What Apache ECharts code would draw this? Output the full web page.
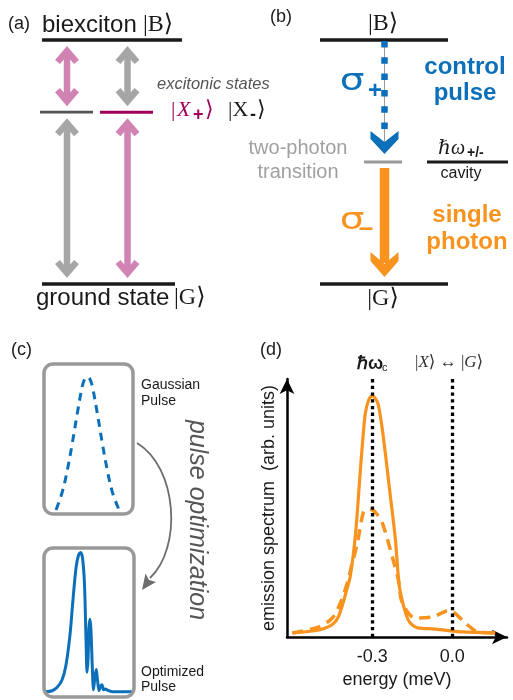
<!DOCTYPE html>
<html>
<head>
<meta charset="utf-8">
<script src="https://cdn.jsdelivr.net/npm/echarts@6/dist/echarts.min.js"></script>
<style>
html, body { margin: 0; padding: 0; background: #fff; }
#main { width: 513px; height: 700px; }
</style>
</head>
<body>
<div id="main"></div>
<script>
// level energies (arb. units, ground state = 0)
const stateNames = ['G', 'X', 'B'];
const stateEnergies = [0, 1.0, 1.42];
const twoPhotonEnergy = 0.71;   // virtual level / cavity, half of B

// (c) pulses, time in % of the box, amplitude normalised
const gaussT = [13.5, 20.6, 26.2, 31.8, 37.4, 43.0, 45.8, 48.7, 51.5, 54.3, 59.9, 65.5, 71.1, 76.7, 84.3];
const gaussAmp = [0.015, 0.15, 0.31, 0.51, 0.73, 0.93, 0.985, 1.0, 0.985, 0.93, 0.73, 0.51, 0.31, 0.15, 0.015];
const optT = [2.2, 8.9, 14.4, 20, 24.4, 28.9, 32.2, 35.6, 38.3, 40.6, 42.8, 45, 46.7, 47.8, 48.9, 50, 51.1, 52.2,
  53.7, 55, 56.7, 58.1, 59.4, 61.1, 62.8, 64.4, 66.1, 68.3, 70.6, 75.6, 97.8];
const optAmp = [0, 0.007, 0.03, 0.084, 0.19, 0.41, 0.66, 0.89, 0.98, 1.0, 0.96, 0.77, 0.37, 0.14, 0.23, 0.46, 0.52, 0.44,
  0.17, 0.014, 0.115, 0.16, 0.086, 0.007, 0.04, 0.05, 0.014, 0.02, 0.01, 0, 0];

// (d) emission spectrum, energy in meV
const solidE = [-0.6, -0.5, -0.46, -0.44, -0.425, -0.41, -0.395, -0.383, -0.364, -0.345, -0.335, -0.326, -0.313, -0.3,
  -0.289, -0.278, -0.265, -0.251, -0.232, -0.214, -0.2, -0.19, -0.178, -0.165, -0.15, -0.13, -0.064, 0.037, 0.161];
const solidS = [0.017, 0.029, 0.045, 0.062, 0.09, 0.14, 0.2, 0.25, 0.415, 0.69, 0.83, 0.93, 0.985, 1.0,
  0.99, 0.965, 0.88, 0.76, 0.58, 0.41, 0.22, 0.16, 0.11, 0.07, 0.05, 0.038, 0.033, 0.021, 0.017];
const dashedE = [-0.6, -0.502, -0.45, -0.42, -0.394, -0.375, -0.356, -0.334, -0.318, -0.3, -0.283, -0.2625, -0.225,
  -0.2025, -0.1875, -0.139, -0.075, -0.015, 0.004, 0.049, 0.097, 0.161];
const dashedS = [0.017, 0.041, 0.079, 0.141, 0.224, 0.307, 0.39, 0.515, 0.53, 0.527, 0.51, 0.473, 0.332,
  0.237, 0.141, 0.079, 0.083, 0.108, 0.104, 0.058, 0.021, 0.017];
const markerE = [-0.3, 0.0];
const xTickValues = [-0.3, 0.0];
const xTickLabels = ['-0.3', '0.0'];

const SANS = "'Liberation Sans', Arial, Helvetica, sans-serif";
const SERIF = "'Liberation Serif', 'DejaVu Serif', 'Times New Roman', serif";
const BLUE = '#0b6fba', ORANGE = '#f7931e', PINK = '#d183b3', GREY = '#a6a6a6', MAGENTA = '#a1005a';

const E = n => stateEnergies[stateNames.indexOf(n)];

// drawing layout of the level schemes (horizontal extent in px columns)
const levels = [
  { e: E('B'), x0: 42, x1: 182, color: '#1a1a1a', w: 3.3 },
  { e: E('X'), x0: 40, x1: 93, color: '#555', w: 2.7 },
  { e: E('X'), x0: 100, x1: 153, color: MAGENTA, w: 3 },
  { e: E('G'), x0: 42, x1: 175, color: '#1a1a1a', w: 3.3 },
  { e: E('B'), x0: 320, x1: 448, color: '#1a1a1a', w: 3.3 },
  { e: twoPhotonEnergy, x0: 364, x1: 402, color: '#999', w: 3 },
  { e: twoPhotonEnergy, x0: 427, x1: 508, color: '#1a1a1a', w: 3 },
  { e: E('G'), x0: 320, x1: 448, color: '#1a1a1a', w: 3.3 }
];
const transitions = [
  { x: 67, hi: E('B'), lo: E('X'), kind: 'double', color: PINK },
  { x: 127.5, hi: E('B'), lo: E('X'), kind: 'double', color: GREY },
  { x: 67, hi: E('X'), lo: E('G'), kind: 'double', color: GREY },
  { x: 127.5, hi: E('X'), lo: E('G'), kind: 'double', color: PINK },
  { x: 384.5, hi: E('B'), lo: twoPhotonEnergy, kind: 'pulse', color: BLUE },
  { x: 384.5, hi: twoPhotonEnergy, lo: E('G'), kind: 'photon', color: ORANGE }
];

function renderLevel(params, api) {
  const L = levels[params.dataIndex];
  const p0 = api.coord([L.x0, L.e]);
  const p1 = api.coord([L.x1, L.e]);
  return { type: 'line', shape: { x1: p0[0], y1: p0[1], x2: p1[0], y2: p1[1] }, style: { stroke: L.color, lineWidth: L.w } };
}

function chevron(x, tip, c) {
  return { type: 'polygon', shape: { points: [[x - 14, tip - 23], [x, tip - 12], [x + 14, tip - 23], [x + 14, tip - 15], [x, tip], [x - 14, tip - 15]] }, style: { fill: c } };
}

function renderTransition(params, api) {
  const A = transitions[params.dataIndex];
  const top = api.coord([A.x, A.hi]);
  const bot = api.coord([A.x, A.lo]);
  const x = top[0], c = A.color;
  const kids = [];
  if (A.kind === 'double') {
    const y1 = top[1] + 6, y2 = bot[1] - 6;
    kids.push({ type: 'line', shape: { x1: x, y1: y1 + 5, x2: x, y2: y2 - 5 }, style: { stroke: c, lineWidth: 6.5 } });
    kids.push({ type: 'polyline', shape: { points: [[x - 9.5, y1 + 16], [x, y1 + 5], [x + 9.5, y1 + 16]] }, style: { stroke: c, lineWidth: 6.5, fill: null, lineJoin: 'miter' } });
    kids.push({ type: 'polyline', shape: { points: [[x - 9.5, y2 - 16], [x, y2 - 5], [x + 9.5, y2 - 16]] }, style: { stroke: c, lineWidth: 6.5, fill: null, lineJoin: 'miter' } });
  } else if (A.kind === 'pulse') {
    const tip = bot[1] - 8;
    kids.push({ type: 'line', shape: { x1: x, y1: top[1] + 2, x2: x, y2: tip - 12 }, style: { stroke: '#9a9a9a', lineWidth: 1 } });
    kids.push({ type: 'line', shape: { x1: x, y1: top[1] + 1, x2: x, y2: tip - 24 }, style: { stroke: c, lineWidth: 6.5, lineDash: [6.5, 9.8] } });
    kids.push(chevron(x, tip, c));
  } else {
    const tip = bot[1] - 7;
    kids.push({ type: 'line', shape: { x1: x, y1: top[1] + 6, x2: x, y2: tip - 14 }, style: { stroke: c, lineWidth: 9.5 } });
    kids.push({ type: 'polygon', shape: { points: [[x - 14, tip - 25], [x, tip - 13], [x + 14, tip - 25], [x + 14, tip - 16], [x, tip], [x - 14, tip - 16]] }, style: { fill: c } });
  }
  return { type: 'group', children: kids };
}

function txt(x, y, s, size, o) {
  o = o || {};
  const st = {
    text: s, fill: o.color || '#1a1a1a',
    font: (o.italic ? 'italic ' : '') + (o.bold ? 'bold ' : '') + size + 'px ' + (o.family || SANS),
    align: o.align || 'left', textAlign: o.align || 'left', verticalAlign: 'middle', textVerticalAlign: 'middle'
  };
  if (o.rich) st.rich = o.rich;
  return { type: 'text', x: x, y: y, z: 100, rotation: o.rot || 0, scaleX: o.sx || 1, style: st };
}

const SIGMA = "'DejaVu Sans', 'Liberation Sans', sans-serif";
const texts = [
  // (a)
  txt(8, 24, '(a)', 18),
  txt(42, 25, 'biexciton', 24),
  txt(143, 25, '|B⟩', 24, { family: SERIF }),
  txt(36, 298, 'ground state', 24),
  txt(174, 298, '|G⟩', 24, { family: SERIF }),
  txt(157, 84, 'excitonic states', 16.5, { italic: true, color: '#555' }),
  txt(171, 110, '|', 22, { family: SERIF, color: MAGENTA }),
  txt(177, 110, 'X', 22, { family: SERIF, italic: true, color: MAGENTA }),
  txt(193, 115, '+', 18, { bold: true, color: MAGENTA }),
  txt(205, 110, '⟩', 22, { family: SERIF, color: MAGENTA }),
  txt(228, 110, '|X', 22, { family: SERIF }),
  txt(250, 115, '-', 18, { bold: true }),
  txt(257, 110, '⟩', 22, { family: SERIF }),
  // (b)
  txt(270, 17, '(b)', 18),
  txt(383, 24, '|B⟩', 24, { family: SERIF, align: 'center' }),
  txt(352, 82, 'σ', 30, { color: BLUE, align: 'center', sx: 1.3, family: SIGMA }),
  txt(375, 91, '+', 24, { bold: true, color: BLUE, align: 'center' }),
  txt(465, 67, 'control', 24, { bold: true, color: BLUE, align: 'center' }),
  txt(465, 93, 'pulse', 24, { bold: true, color: BLUE, align: 'center' }),
  txt(298, 148, 'two-photon', 20, { color: '#a0a0a0', align: 'center' }),
  txt(298, 172, 'transition', 20, { color: '#a0a0a0', align: 'center' }),
  txt(438, 149, 'ℏω', 20, { family: SERIF, italic: true }),
  txt(467, 153, '+/-', 14, { bold: true }),
  txt(461, 174, 'cavity', 16, { align: 'center' }),
  txt(352, 221, 'σ', 30, { color: ORANGE, align: 'center', sx: 1.3, family: SIGMA }),
  txt(366, 229, '–', 26, { bold: true, color: ORANGE, align: 'center' }),
  txt(467, 215, 'single', 24, { bold: true, color: ORANGE, align: 'center' }),
  txt(467, 242, 'photon', 24, { bold: true, color: ORANGE, align: 'center' }),
  txt(383, 299, '|G⟩', 24, { family: SERIF, align: 'center' }),
  // (c)
  txt(11, 350, '(c)', 18),
  txt(141, 385, 'Gaussian', 14),
  txt(141, 401.5, 'Pulse', 14),
  txt(141, 672, 'Optimized', 14),
  txt(141, 687, 'Pulse', 14),
  txt(197, 520, 'pulse optimization', 25, { italic: true, color: '#555', align: 'center', rot: -Math.PI / 2 }),
  // (d)
  txt(260, 350, '(d)', 18),
  txt(357, 364, 'ℏω', 18, { bold: true }),
  txt(382, 368, 'c', 11),
  txt(415, 363, '{n||}{i|X}{n|⟩ ↔ |}{i|G}{n|⟩}', 17, {
    family: SERIF, color: '#333',
    rich: {
      n: { fontFamily: SERIF, fontSize: 17, fill: '#333', color: '#333' },
      i: { fontFamily: SERIF, fontSize: 17, fontStyle: 'italic', fill: '#333', color: '#333' }
    }
  })
];

const boxes = [
  { type: 'rect', z: 50, shape: { x: 44, y: 364, width: 89, height: 150, r: 9 }, style: { fill: null, stroke: '#999', lineWidth: 3.5 } },
  { type: 'rect', z: 50, shape: { x: 44, y: 548, width: 90, height: 149, r: 9 }, style: { fill: null, stroke: '#999', lineWidth: 3.5 } },
  { type: 'bezierCurve', z: 50, shape: { x1: 137, y1: 443, cpx1: 178, cpy1: 468, cpx2: 182, cpy2: 548, x2: 150, y2: 578 }, style: { stroke: '#6d6d6d', lineWidth: 1.8, fill: null } },
  { type: 'polygon', z: 50, shape: { points: [[142, 590], [145.5, 573.5], [149, 580], [156, 582]] }, style: { fill: '#6d6d6d' } }
];

const hidden = { show: false };
const chart = echarts.init(document.getElementById('main'), null, { renderer: 'canvas' });
chart.setOption({
  animation: false,
  backgroundColor: '#fff',
  grid: [
    { left: 0, top: 40, width: 513, height: 244 },
    { left: 44, top: 364, width: 89, height: 150 },
    { left: 44, top: 548, width: 90, height: 149 },
    { left: 287, top: 379, right: 6, bottom: 63 }
  ],
  xAxis: [
    { gridIndex: 0, type: 'value', min: 0, max: 513, show: false },
    { gridIndex: 1, type: 'value', min: 0, max: 100, show: false },
    { gridIndex: 2, type: 'value', min: 0, max: 100, show: false },
    {
      gridIndex: 3, type: 'value', min: -0.62, max: 0.205,
      name: 'energy (meV)', nameLocation: 'middle', nameGap: 34,
      nameTextStyle: { fontSize: 18, color: '#1a1a1a', fontFamily: SANS },
      axisLine: { onZero: false, lineStyle: { color: '#000', width: 2.5 }, symbol: ['none', 'arrow'], symbolSize: [11, 15] },
      axisTick: hidden, splitLine: hidden,
      axisLabel: {
        customValues: xTickValues, margin: 11, fontSize: 18, color: '#1a1a1a', fontFamily: SANS,
        formatter: v => xTickLabels[xTickValues.indexOf(v)] !== undefined ? xTickLabels[xTickValues.indexOf(v)] : ''
      }
    }
  ],
  yAxis: [
    { gridIndex: 0, type: 'value', min: 0, max: 1.42, show: false },
    { gridIndex: 1, type: 'value', min: -0.015, max: 1.096, show: false },
    { gridIndex: 2, type: 'value', min: -0.038, max: 1.032, show: false },
    {
      gridIndex: 3, type: 'value', min: 0, max: 1.07,
      name: 'emission spectrum  (arb. units)', nameLocation: 'middle', nameGap: 9,
      nameTextStyle: { fontSize: 18, color: '#1a1a1a', fontFamily: SANS },
      axisLine: { show: true, onZero: false, lineStyle: { color: '#000', width: 2.5 }, symbol: ['none', 'arrow'], symbolSize: [11, 15] },
      axisTick: hidden, splitLine: hidden, axisLabel: hidden
    }
  ],
  graphic: boxes.concat(texts),
  series: [
    {
      type: 'custom', xAxisIndex: 0, yAxisIndex: 0, silent: true,
      renderItem: renderLevel, data: levels.map(L => [L.x0, L.e])
    },
    {
      type: 'custom', xAxisIndex: 0, yAxisIndex: 0, silent: true, z: 3,
      renderItem: renderTransition, data: transitions.map(A => [A.x, A.hi])
    },
    {
      type: 'line', xAxisIndex: 1, yAxisIndex: 1, smooth: 0.4, showSymbol: false, silent: true,
      lineStyle: { color: BLUE, width: 3, type: [8, 6] },
      data: gaussT.map((t, i) => [t, gaussAmp[i]])
    },
    {
      type: 'line', xAxisIndex: 2, yAxisIndex: 2, smooth: 0.3, showSymbol: false, silent: true,
      lineStyle: { color: BLUE, width: 3 },
      data: optT.map((t, i) => [t, optAmp[i]])
    },
    {
      type: 'line', xAxisIndex: 3, yAxisIndex: 3, smooth: 0.3, showSymbol: false, silent: true,
      lineStyle: { color: ORANGE, width: 3.2 },
      data: solidE.map((e, i) => [e, solidS[i]]),
      markLine: {
        silent: true, symbol: 'none', label: hidden,
        lineStyle: { color: '#000', width: 3.3, type: [3.3, 3.4] },
        data: markerE.map(e => ({ xAxis: e }))
      }
    },
    {
      type: 'line', xAxisIndex: 3, yAxisIndex: 3, smooth: 0.3, showSymbol: false, silent: true,
      lineStyle: { color: ORANGE, width: 3.5, type: [11, 7] },
      data: dashedE.map((e, i) => [e, dashedS[i]])
    }
  ]
});
</script>
</body>
</html>
